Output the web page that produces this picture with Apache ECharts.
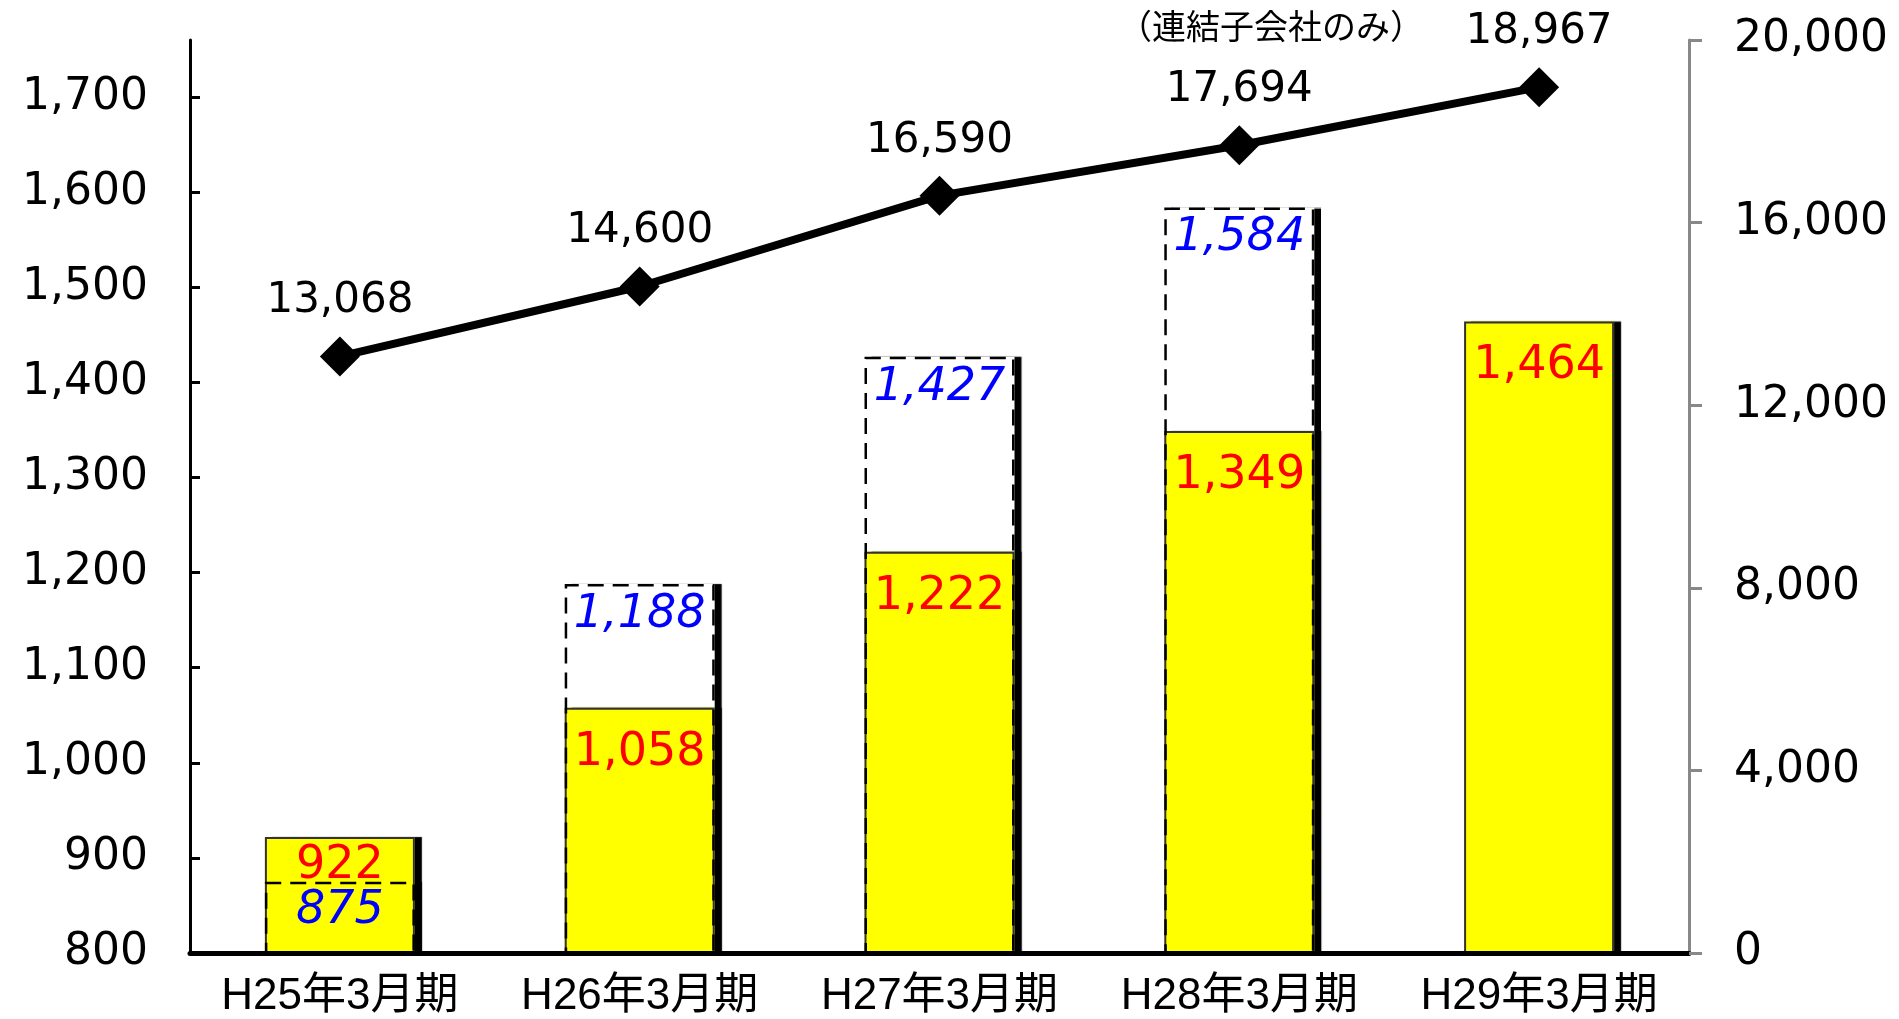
<!DOCTYPE html>
<html>
<head>
<meta charset="utf-8">
<script src="https://cdn.jsdelivr.net/npm/echarts@6/dist/echarts.min.js"></script>
<style>
html,body{margin:0;padding:0;background:#fff;}
#chart{width:1899px;height:1019px;}
</style>
</head>
<body>
<div id="chart"></div>
<script>
// ---- data ----
var categories = ['H25年3月期', 'H26年3月期', 'H27年3月期', 'H28年3月期', 'H29年3月期'];
var tanValues = [922, 1058, 1222, 1349, 1464];          // yellow bars (red labels)
var renValues = [875, 1188, 1427, 1584, null];          // dashed boxes (blue labels)
var subValues = [13068, 14600, 16590, 17694, 18967];    // line (right axis)
var leftTicks = [800, 900, 1000, 1100, 1200, 1300, 1400, 1500, 1600, 1700];
var rightTicks = [0, 4000, 8000, 12000, 16000, 20000];
var noteText = '（連結子会社のみ）';

var fmt = function (v) { return Number(v).toLocaleString('en-US'); };
var DV = 'DejaVu Sans';
var JP = '"Liberation Sans", "Noto Sans CJK JP"';

var chart = echarts.init(document.getElementById('chart'));

var tanData = tanValues.map(function (v, i) {
  return i === 0 ? { value: v, label: { distance: 6 } } : v;
});
var renData = renValues.map(function (v, i) {
  return i === 0 ? { value: v, label: { distance: 6 } } : v;
});
var shadowStyle = { shadowColor: '#000', shadowOffsetX: 7, shadowOffsetY: 0, shadowBlur: 1 };

chart.setOption({
  backgroundColor: '#fff',
  animation: false,
  grid: { left: 190, right: 210, top: 40, bottom: 65 },
  graphic: [{
    type: 'text', x: 1271, y: 9, z: 100,
    style: { text: noteText, font: '34px "Noto Sans CJK JP"', fill: '#000', textAlign: 'center', textVerticalAlign: 'top' }
  }],
  xAxis: {
    type: 'category', data: categories, z: 10,
    axisLine: { lineStyle: { color: '#000', width: 5 } },
    axisTick: { inside: true, length: 12, lineStyle: { color: '#000', width: 2 } },
    axisLabel: { interval: 0, margin: 22, fontSize: 44, color: '#000', fontFamily: JP }
  },
  yAxis: [{
    type: 'value', min: 800, max: 1760, interval: 100, z: 10,
    axisLine: { show: true, lineStyle: { color: '#000', width: 3 } },
    axisTick: { show: true, inside: true, length: 10, customValues: leftTicks, lineStyle: { color: '#000', width: 3 } },
    axisLabel: { margin: 42, fontSize: 44, color: '#000', fontFamily: DV, customValues: leftTicks, formatter: fmt },
    splitLine: { show: false }
  }, {
    type: 'value', min: 0, max: 20000, interval: 4000, position: 'right', z: 10,
    axisLine: { show: true, lineStyle: { color: '#888', width: 3 } },
    axisTick: { show: true, inside: false, length: 13, customValues: rightTicks, lineStyle: { color: '#888', width: 3 } },
    axisLabel: { margin: 45, fontSize: 44, color: '#000', fontFamily: DV, customValues: rightTicks, formatter: fmt },
    splitLine: { show: false }
  }],
  series: [{
    name: '連結(影)', type: 'bar', data: renValues, barWidth: 150, barGap: '-100%', z: 1, silent: true,
    itemStyle: Object.assign({ color: '#fff' }, shadowStyle)
  }, {
    name: '単体(影)', type: 'bar', data: tanValues, barWidth: 150, barGap: '-100%', z: 1, silent: true,
    itemStyle: Object.assign({ color: '#ffff00' }, shadowStyle)
  }, {
    name: '単体', type: 'bar', data: tanData, barWidth: 150, barGap: '-100%', z: 2,
    itemStyle: { color: '#ffff00', borderColor: '#333', borderWidth: 2 },
    label: { show: true, position: 'insideTop', distance: 22, color: '#ff0000', fontSize: 46, fontFamily: DV, formatter: function (p) { return fmt(p.value); } }
  }, {
    name: '連結', type: 'bar', data: renData, barWidth: 150, barGap: '-100%', z: 3,
    itemStyle: { color: 'rgba(0,0,0,0)', borderColor: '#000', borderWidth: 2.5, borderType: [16, 9] },
    label: { show: true, position: 'insideTop', distance: 8, color: '#0000ff', fontSize: 46, fontStyle: 'italic', fontFamily: DV, formatter: function (p) { return fmt(p.value); } }
  }, {
    name: '連結子会社のみ', type: 'line', yAxisIndex: 1, data: subValues, z: 5,
    lineStyle: { color: '#000', width: 8 }, itemStyle: { color: '#000' },
    symbol: 'diamond', symbolSize: 40,
    label: { show: true, position: 'top', distance: 14, color: '#000', fontSize: 42, fontFamily: DV, formatter: function (p) { return fmt(p.value); } }
  }]
});
</script>
</body>
</html>
